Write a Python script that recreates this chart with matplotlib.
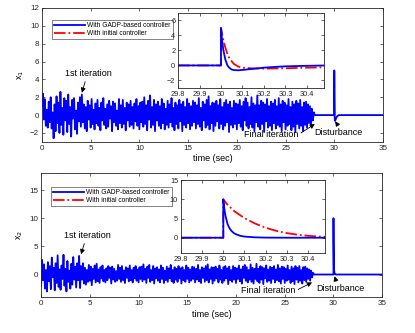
import numpy as np
import matplotlib.pyplot as plt
from matplotlib.lines import Line2D

plt.rcParams['font.family'] = ['Liberation Sans', 'DejaVu Sans']

# noisy learning phase, sampled every 0.1 s from 0 to 27.9 s
dt = 0.1
x1_noise = [
    1.0, 2.4, -0.5, 1.8, -1.2, 0.6, -1.4, 1.5, -0.8, 2.0, -1.5, 0.3, -2.6, 1.2, -1.8, 2.1, -0.9, 1.4, -2.0, 2.6,
    -1.1, 0.8, -2.2, 1.9, -0.6, 1.6, -1.9, 2.3, -1.0, 0.9, -2.4, 1.7, -0.4, 1.9, -1.6, 0.5, -2.1, 1.4, -0.7, 2.0,
    -1.3, 2.3, -0.8, 1.2, -1.5, 0.9, -1.8, 1.6, -0.5, 1.1, -1.4, 1.8, -1.0, 0.6, -1.6, 1.3, -0.9, 1.7, -1.2, 0.8,
    -1.7, 1.4, -0.6, 1.9, -1.1, 0.7, -1.5, 1.2, -1.3, 1.6, -0.4, 1.0, -1.8, 1.5, -0.8, 1.3, -1.2, 0.5, -1.6, 1.8,
    -0.9, 1.1, -1.4, 1.7, -1.0, 0.8, -1.7, 1.4, -0.6, 1.2, -1.3, 1.6, -1.1, 0.9, -1.5, 1.3, -0.7, 1.8, -1.2, 1.0,
    -1.6, 1.4, -0.8, 1.5, -1.3, 2.0, -1.0, 1.1, -1.7, 1.6, -0.5, 2.2, -1.4, 0.9, -1.1, 1.7, -1.8, 1.2, -0.6, 1.5,
    -1.2, 1.0, -1.5, 1.8, -0.9, 1.3, -1.6, 0.7, -1.1, 1.6, -1.4, 1.2, -0.8, 1.9, -1.3, 0.8, -1.7, 1.4, -1.0, 1.1,
    -1.5, 1.7, -0.7, 1.2, -1.8, 1.5, -1.1, 0.9, -1.4, 1.8, -0.9, 1.3, -1.6, 1.0, -1.2, 1.6, -0.8, 1.4, -1.5, 1.1,
    -1.0, 1.9, -1.3, 0.8, -1.7, 1.5, -0.6, 1.2, -1.4, 1.7, -1.1, 2.1, -1.6, 1.0, -0.9, 1.4, -1.8, 1.3, -1.2, 1.6,
    -0.7, 1.1, -1.5, 1.8, -1.0, 0.9, -1.6, 1.4, -1.2, 1.7, -0.8, 1.2, -1.9, 1.5, -1.1, 0.8, -1.4, 1.6, -1.0, 1.3,
    -1.6, 1.2, -0.9, 1.7, -1.3, 1.0, -1.7, 1.5, -0.6, 1.9, -1.2, 1.4, -1.5, 0.9, -1.0, 2.0, -1.4, 1.3, -1.8, 1.1,
    -0.8, 2.2, -1.3, 1.1, -1.6, 1.6, -1.0, 1.4, -1.9, 1.2, -0.7, 1.8, -1.4, 1.0, -1.2, 1.5, -1.7, 1.3, -0.9, 1.7,
    -1.5, 1.0, -1.1, 1.9, -1.3, 1.2, -1.8, 1.6, -0.8, 1.4, -1.6, 1.1, -1.2, 1.8, -1.0, 0.9, -1.7, 1.5, -1.3, 1.2,
    -1.9, 1.6, -1.0, 1.3, -1.5, 1.7, -1.2, 0.9, -1.8, 1.4, -1.1, 1.5, -1.4, 1.2, -0.9, 1.0, -1.2, 0.7, -0.6, 0.3,
]
x2_noise = [
    -2.0, 2.6, -1.0, 1.8, -2.5, 0.8, -3.0, 2.2, -1.2, 1.5, -2.6, 3.0, -0.5, 1.2, -2.8, 2.0, -1.5, 3.4, -2.2, 0.9,
    -2.7, 1.6, -0.8, 3.5, -2.0, 1.0, -3.0, 2.4, -1.3, 0.7, -2.5, 1.9, -1.8, 3.1, -0.9, 1.4, -2.3, 2.0, -1.0, 3.3,
    -2.4, 1.5, -0.9, 2.0, -1.6, 1.2, -1.8, 0.8, -1.3, 1.7, -1.1, 1.4, -1.9, 1.0, -0.8, 1.6, -1.4, 1.9, -1.2, 0.9,
    -1.5, 1.3, -0.7, 1.6, -1.2, 0.8, -1.4, 1.1, -1.0, 1.5, -0.6, 1.2, -1.6, 1.4, -0.9, 1.0, -1.3, 0.6, -1.1, 1.7,
    -0.8, 1.2, -1.3, 1.5, -1.0, 0.7, -1.5, 1.3, -0.6, 1.1, -1.2, 1.6, -1.0, 0.8, -1.4, 1.2, -0.7, 1.5, -1.1, 0.9,
    -1.4, 1.3, -0.8, 1.4, -1.2, 1.8, -0.9, 1.0, -1.5, 1.4, -0.6, 1.7, -1.3, 0.8, -1.0, 1.5, -1.6, 1.1, -0.7, 1.3,
    -1.1, 0.9, -1.4, 1.6, -0.8, 1.2, -1.5, 0.7, -1.0, 1.4, -1.3, 1.1, -0.7, 1.7, -1.2, 0.8, -1.5, 1.3, -0.9, 1.0,
    -1.3, 1.5, -0.7, 1.1, -1.6, 1.3, -1.0, 0.8, -1.3, 1.6, -0.8, 1.2, -1.4, 0.9, -1.1, 1.4, -0.8, 1.3, -1.4, 1.0,
    -0.9, 1.7, -1.2, 0.8, -1.5, 1.3, -0.6, 1.1, -1.3, 1.5, -1.0, 1.8, -1.4, 0.9, -0.8, 1.3, -1.6, 1.2, -1.1, 1.4,
    -0.7, 1.0, -1.4, 1.6, -0.9, 0.8, -1.5, 1.3, -1.1, 1.5, -0.7, 1.1, -1.7, 1.4, -1.0, 0.8, -1.3, 1.5, -0.9, 1.2,
    -1.5, 1.1, -0.8, 1.6, -1.2, 0.9, -1.6, 1.4, -0.6, 1.7, -1.1, 1.3, -1.4, 0.8, -0.9, 1.8, -1.3, 1.2, -1.6, 1.0,
    -0.8, 1.9, -1.2, 1.0, -1.5, 1.5, -0.9, 1.3, -1.7, 1.1, -0.7, 1.6, -1.3, 0.9, -1.1, 1.4, -1.5, 1.2, -0.8, 1.5,
    -1.4, 0.9, -1.0, 1.7, -1.2, 1.1, -1.6, 1.4, -0.8, 1.3, -1.5, 1.0, -1.1, 1.6, -0.9, 0.8, -1.5, 1.4, -1.2, 1.1,
    -1.7, 1.5, -0.9, 1.2, -1.4, 1.5, -1.1, 0.8, -1.6, 1.3, -1.0, 1.4, -1.3, 1.1, -0.8, 0.9, -1.1, 0.7, -0.5, 0.3,
]

# response to the disturbance at t = 30 s
t_x1_gadp = [30.0, 30.0, 30.005, 30.01, 30.02, 30.03, 30.04, 30.05, 30.06, 30.08, 30.1, 30.15, 30.2, 30.25, 30.3, 30.4, 30.5]
x1_gadp = [0.0, 5.0, 3.4, 2.2, 0.8, 0.0, -0.35, -0.55, -0.62, -0.65, -0.6, -0.45, -0.3, -0.2, -0.12, -0.05, 0.0]
t_x1_init = [30.0, 30.0, 30.01, 30.02, 30.03, 30.04, 30.06, 30.08, 30.1, 30.15, 30.2, 30.3, 30.4, 30.5]
x1_init = [0.0, 5.0, 3.5, 2.4, 1.5, 0.9, 0.2, -0.15, -0.3, -0.4, -0.42, -0.38, -0.3, -0.25]

t_x2_gadp = [30.0, 30.0, 30.005, 30.01, 30.02, 30.03, 30.04, 30.05, 30.06, 30.08, 30.1, 30.15, 30.2, 30.3, 30.5]
x2_gadp = [0.0, 10.0, 7.5, 5.8, 3.6, 2.4, 1.7, 1.2, 0.9, 0.5, 0.3, 0.1, 0.03, 0.0, 0.0]
t_x2_init = [30.0, 30.0, 30.02, 30.05, 30.1, 30.15, 30.2, 30.25, 30.3, 30.35, 30.4, 30.45, 30.5]
x2_init = [0.0, 10.0, 8.6, 7.0, 5.1, 3.7, 2.6, 1.8, 1.2, 0.8, 0.5, 0.3, 0.2]

t_end = 35.0

def full_series(noise, t_dist, x_dist):
    t = list(np.arange(len(noise)) * dt) + [28.0, 29.8] + t_dist + [t_end]
    x = list(noise) + [0.0, 0.0] + x_dist + [0.0]
    return t, x

def matlab_style(ax, fs):
    ax.tick_params(direction='in', top=True, right=True, labelsize=fs,
                   length=2.5, width=0.5, colors='#262626', pad=2)
    for s in ax.spines.values():
        s.set_linewidth(0.6)
        s.set_color('#262626')

fig = plt.figure(figsize=(4.15, 3.33), dpi=100)

panels = [
    dict(noise=x1_noise, tg=t_x1_gadp, xg=x1_gadp, ti=t_x1_init, xi=x1_init,
         rect=[0.101, 0.574, 0.822, 0.402], ylim=(-3, 12), yticks=[-2, 0, 2, 4, 6, 8, 10, 12],
         ylabel='x$_1$',
         inset=[0.429, 0.736, 0.352, 0.225], iylim=(-3, 7), iyticks=[-2, 0, 2, 4, 6],
         leg=(0.125, 0.940), first=((4.1, 2.5), (4.8, 4.7)),
         final=((28.0, -1.0), (23.5, -2.2)), dist=((30.08, -0.7), (30.45, -2.0), 0.53)),
    dict(noise=x2_noise, tg=t_x2_gadp, xg=x2_gadp, ti=t_x2_init, xi=x2_init,
         rect=[0.099, 0.108, 0.822, 0.372], ylim=(-4, 18), yticks=[0, 5, 10, 15],
         ylabel='x$_2$',
         inset=[0.436, 0.240, 0.347, 0.219], iylim=(-4, 15), iyticks=[0, 5, 10, 15],
         leg=(0.123, 0.438), first=((4.1, 3.6), (4.8, 7.0)),
         final=((27.8, -1.4), (23.3, -2.9)), dist=((30.1, -0.3), (30.7, -2.5), 0.43)),
]

for p in panels:
    ax = fig.add_axes(p['rect'])
    t, x = full_series(p['noise'], p['tg'], p['xg'])
    ax.plot(t, x, color='b', lw=1.3)
    ax.set_xlim(0, 35)
    ax.set_ylim(*p['ylim'])
    ax.set_xticks([0, 5, 10, 15, 20, 25, 30, 35])
    ax.set_yticks(p['yticks'])
    ax.set_xlabel('time (sec)', fontsize=6.5, labelpad=2)
    ax.set_ylabel(p['ylabel'], fontsize=6.5, labelpad=3)
    matlab_style(ax, 5.8)

    head, txt = p['first']
    ax.annotate('1st iteration', xy=head, xytext=txt, ha='center', va='center', fontsize=6.5,
                arrowprops=dict(arrowstyle='-|>', color='k', lw=0.6, mutation_scale=7,
                                shrinkA=1, shrinkB=0, relpos=(0.45, 0.0)))
    head, txt = p['final']
    ax.annotate('Final iteration', xy=head, xytext=txt, ha='center', va='center', fontsize=6.5,
                arrowprops=dict(arrowstyle='-|>', color='k', lw=0.6, mutation_scale=7,
                                shrinkA=0, shrinkB=0, relpos=(1.0, 0.5)))
    head, txt, rx = p['dist']
    ax.annotate('Disturbance', xy=head, xytext=txt, ha='center', va='center', fontsize=6.5,
                arrowprops=dict(arrowstyle='-|>', color='k', lw=0.6, mutation_scale=7,
                                shrinkA=0, shrinkB=0, relpos=(rx, 1.0)))

    handles = [Line2D([], [], color='b', lw=1.3), Line2D([], [], color='r', lw=1.3, ls='-.')]
    leg = ax.legend(handles, ['With GADP-based controller', 'With initial controller'],
                    loc='upper left', bbox_to_anchor=p['leg'], bbox_transform=fig.transFigure,
                    fontsize=4.8, frameon=True, fancybox=False, handlelength=4.6,
                    borderpad=0.3, labelspacing=0.2, handletextpad=0.4, borderaxespad=0)
    leg.get_frame().set_edgecolor('#262626')
    leg.get_frame().set_linewidth(0.5)

    ins = fig.add_axes(p['inset'])
    ti = [29.8] + p['ti']
    xi = [0.0] + p['xi']
    tg = [29.8] + p['tg']
    xg = [0.0] + p['xg']
    ins.plot(ti, xi, color='r', lw=1.3, ls='-.')
    ins.plot(tg, xg, color='b', lw=1.3)
    ins.set_xlim(29.8, 30.48)
    ins.set_ylim(*p['iylim'])
    ins.set_xticks([29.8, 29.9, 30.0, 30.1, 30.2, 30.3, 30.4])
    ins.set_xticklabels(['29.8', '29.9', '30', '30.1', '30.2', '30.3', '30.4'])
    ins.set_yticks(p['iyticks'])
    matlab_style(ins, 5.3)

fig.savefig('out.png', dpi=100)
